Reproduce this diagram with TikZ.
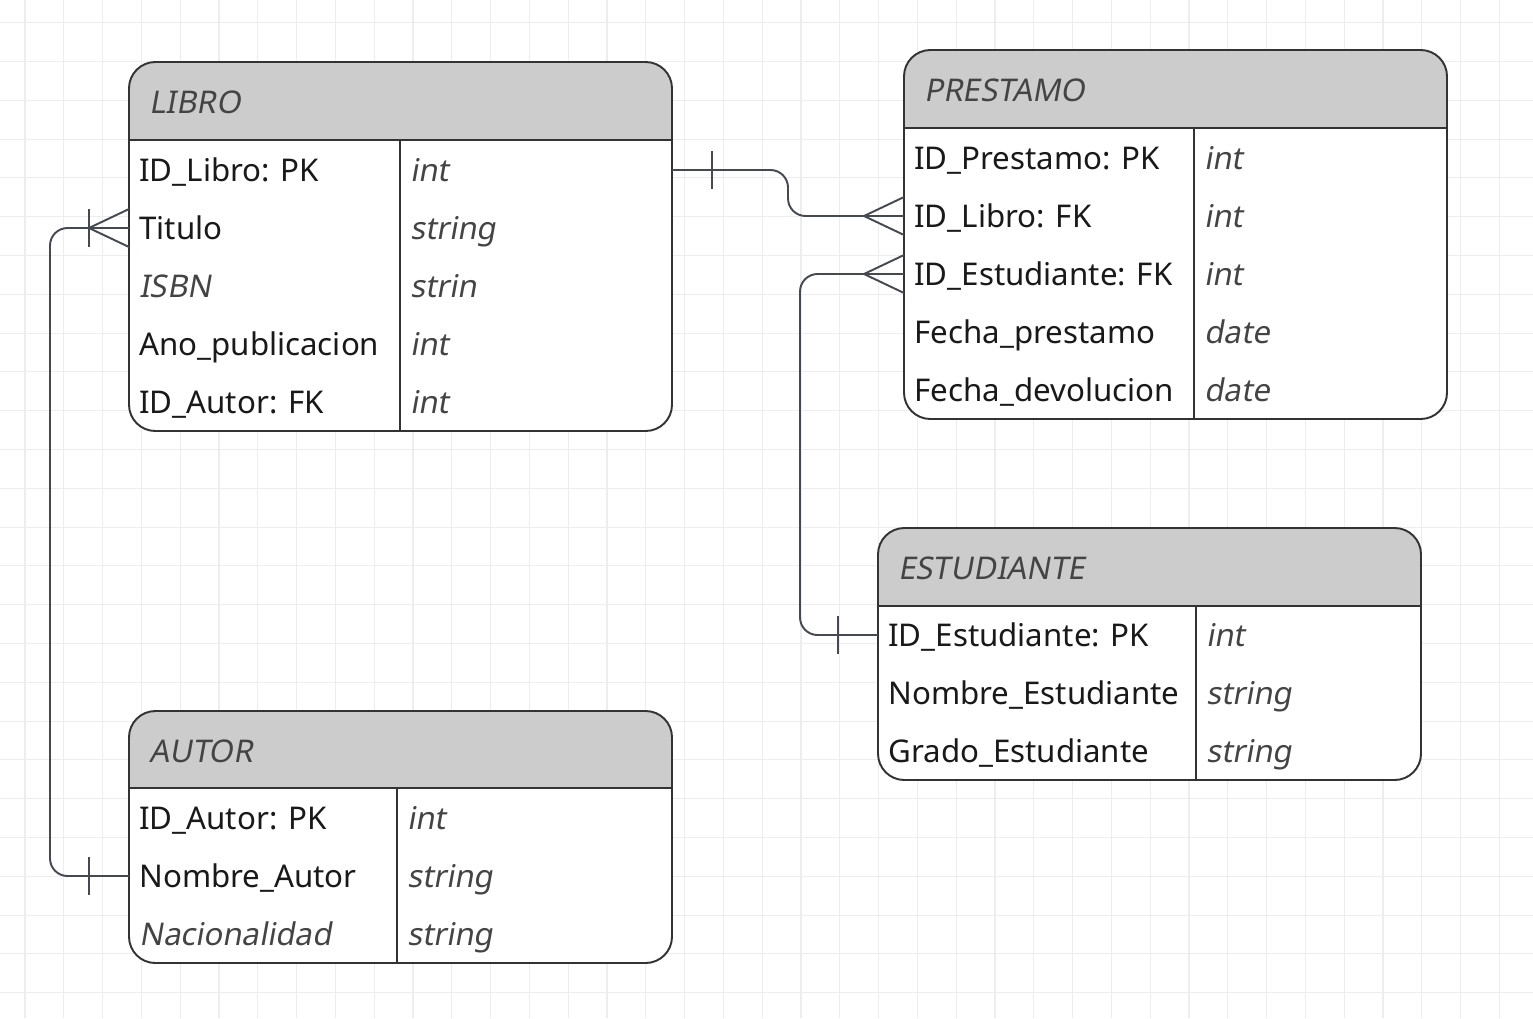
\documentclass[tikz,border=0pt]{standalone}
\usepackage{fontspec}
\setmainfont{Noto Sans}
\newfontfamily\oblicua[FakeSlant=0.18]{Noto Sans}
\definecolor{gristexto}{HTML}{444444}
\definecolor{griscab}{HTML}{CCCCCC}
\definecolor{gristrazo}{HTML}{333333}
\definecolor{grislinea}{HTML}{454A52}
\definecolor{grisrejilla}{HTML}{EDEDED}
\newcommand{\cursiva}{\oblicua\color{gristexto}}
\begin{document}
\begin{tikzpicture}[x = 0.02cm, y = -0.02cm,
    campo/.style = {anchor=base west, inner sep=0pt, font=\fontsize{17.8}{21}\selectfont, text=black!90},
    tipo/.style = {campo, font=\oblicua\fontsize{17.8}{21}\selectfont, text=gristexto},
    borde/.style = {draw=gristrazo, line width=1.1pt},
    conector/.style = {draw=grislinea, line width=1.1pt}]
    \useasboundingbox (0,0) rectangle (1533,1018);
    \fill[white] (0,0) rectangle (1533,1018);
    % rejilla
    \foreach \i in {0,...,38}
        \draw[grisrejilla, line width=0.6pt] ({25+38.8*\i},0) -- ++(0,1018);
    \foreach \j in {0,...,25}
        \draw[grisrejilla, line width=0.6pt] (0,{22.7+38.8*\j}) -- ++(1533,0);

    % LIBRO
    \fill[white, rounded corners=15]   (129,62) rectangle (672,431);
    \fill[griscab, rounded corners=15] (129,62) rectangle (672,140);
    \fill[griscab]                     (129,110) rectangle (672,140);
    \draw[borde, rounded corners=15]   (129,62) rectangle (672,431);
    \draw[borde] (129,140) -- (672,140) (400,140) -- (400,431);
    \node[tipo] (libro) at (149,113.5) {LIBRO};
    \foreach \campo/\tipo [count=\i] in {ID\_Libro: PK/int, Titulo/string, {\cursiva ISBN}/strin, Ano\_publicacion/int, ID\_Autor: FK/int} {
        \node[campo] (libro-c\i) at (139, {181.5+58*(\i-1)}) {\campo};
        \node[tipo]  (libro-t\i) at (410, {181.5+58*(\i-1)}) {\tipo};
        \coordinate (libro-i\i) at (129, {170+58*(\i-1)});
        \coordinate (libro-d\i) at (672, {170+58*(\i-1)});
    }

    % PRESTAMO
    \fill[white, rounded corners=15]   (904,50) rectangle (1447,419);
    \fill[griscab, rounded corners=15] (904,50) rectangle (1447,128);
    \fill[griscab]                     (904,98) rectangle (1447,128);
    \draw[borde, rounded corners=15]   (904,50) rectangle (1447,419);
    \draw[borde] (904,128) -- (1447,128) (1194,128) -- (1194,419);
    \node[tipo] (prestamo) at (924,101.5) {PRESTAMO};
    \foreach \campo/\tipo [count=\i] in {ID\_Prestamo: PK/int, ID\_Libro: FK/int, ID\_Estudiante: FK/int, Fecha\_prestamo/date, Fecha\_devolucion/date} {
        \node[campo] (prestamo-c\i) at (914, {169.5+58*(\i-1)}) {\campo};
        \node[tipo]  (prestamo-t\i) at (1204, {169.5+58*(\i-1)}) {\tipo};
        \coordinate (prestamo-i\i) at (904, {158+58*(\i-1)});
    }

    % ESTUDIANTE
    \fill[white, rounded corners=15]   (878,528) rectangle (1421,780);
    \fill[griscab, rounded corners=15] (878,528) rectangle (1421,606);
    \fill[griscab]                     (878,576) rectangle (1421,606);
    \draw[borde, rounded corners=15]   (878,528) rectangle (1421,780);
    \draw[borde] (878,606) -- (1421,606) (1196,606) -- (1196,780);
    \node[tipo] (estudiante) at (898,579.5) {ESTUDIANTE};
    \foreach \campo/\tipo [count=\i] in {ID\_Estudiante: PK/int, Nombre\_Estudiante/string, Grado\_Estudiante/string} {
        \node[campo] (estudiante-c\i) at (888, {646.5+58*(\i-1)}) {\campo};
        \node[tipo]  (estudiante-t\i) at (1206, {646.5+58*(\i-1)}) {\tipo};
        \coordinate (estudiante-i\i) at (878, {635+58*(\i-1)});
    }

    % AUTOR
    \fill[white, rounded corners=15]   (129,711) rectangle (672,963);
    \fill[griscab, rounded corners=15] (129,711) rectangle (672,788);
    \fill[griscab]                     (129,758) rectangle (672,788);
    \draw[borde, rounded corners=15]   (129,711) rectangle (672,963);
    \draw[borde] (129,788) -- (672,788) (397,788) -- (397,963);
    \node[tipo] (autor) at (149,762.5) {AUTOR};
    \foreach \campo/\tipo [count=\i] in {ID\_Autor: PK/int, Nombre\_Autor/string, {\cursiva Nacionalidad}/string} {
        \node[campo] (autor-c\i) at (139, {829.5+58*(\i-1)}) {\campo};
        \node[tipo]  (autor-t\i) at (407, {829.5+58*(\i-1)}) {\tipo};
        \coordinate (autor-i\i) at (129, {818+58*(\i-1)});
    }

    % relaciones
    \draw[conector, rounded corners=10] (libro-d1) -- (788,170) -- (788,216) -- (prestamo-i2);
    \draw[conector] (712,151) -- (712,189);
    \draw[conector] (prestamo-i2) ++(0,-19) -- (864,216) -- (904,235);

    \draw[conector, rounded corners=10] (prestamo-i3) -- (800,274) -- (800,635) -- (estudiante-i1);
    \draw[conector] (prestamo-i3) ++(0,-19) -- (864,274) -- (904,293);
    \draw[conector] (838,616) -- (838,654);

    \draw[conector, rounded corners=10] (libro-i2) -- (50,228) -- (50,876) -- (autor-i2);
    \draw[conector] (libro-i2) ++(0,-19) -- (89,228) -- (129,247);
    \draw[conector] (89,209) -- (89,247);
    \draw[conector] (89,857) -- (89,895);
\end{tikzpicture}
\end{document}
